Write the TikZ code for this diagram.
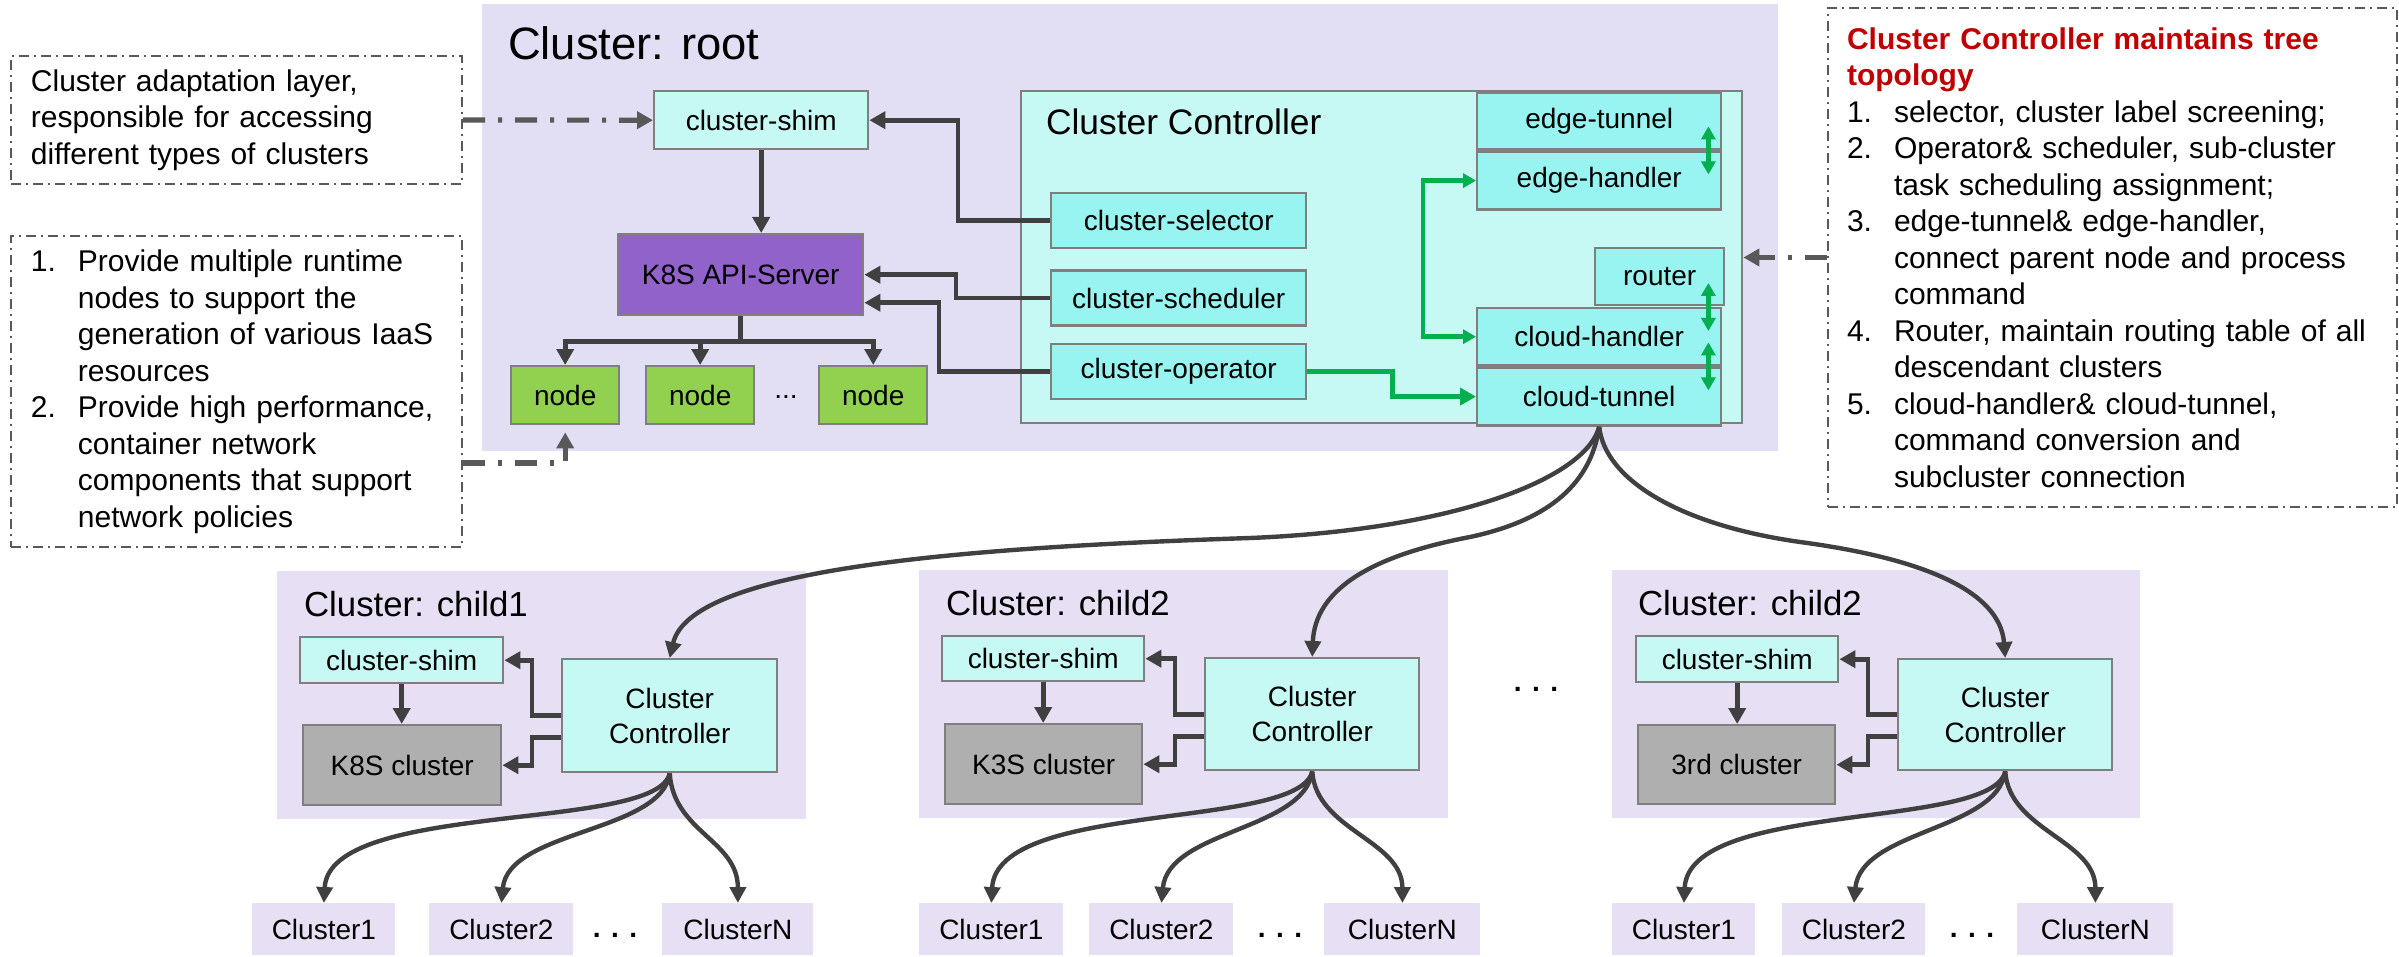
\documentclass[tikz,border=0pt]{standalone}
\usepackage{fontspec}
\setmainfont{Liberation Sans}
\usepackage{tikz}
\usetikzlibrary{arrows.meta, positioning, calc}
\definecolor{rootbg}{HTML}{E2DFF5}
\definecolor{childbg}{HTML}{E7DFF3}
\definecolor{lightcyan}{HTML}{C6F8F4}
\definecolor{midcyan}{HTML}{97F4F0}
\definecolor{apipurple}{HTML}{9162C9}
\definecolor{nodegreen}{HTML}{92D050}
\definecolor{clgray}{HTML}{AFAFAF}
\definecolor{edgegray}{HTML}{7F7F7F}
\definecolor{arrowgray}{HTML}{404040}
\definecolor{linkgreen}{HTML}{00B050}
\definecolor{notered}{HTML}{C00000}
\definecolor{notegray}{HTML}{595959}
\newcommand{\Num}[1]{\makebox[23.5pt][l]{#1}}
\newcommand{\Ind}{\hspace*{23.5pt}}
\newcommand{\Head}[1]{\textcolor{notered}{\textbf{#1}}}
\tikzset{
    sz/.style 2 args={minimum width=#1, minimum height=#2},
    box/.style={draw=edgegray, line width=1.2pt, inner sep=0pt, anchor=north west,
      font=\fontsize{14}{17.5}\selectfont},
    shim/.style={box, fill=lightcyan},
    part/.style={box, fill=midcyan},
    area/.style={fill=#1, inner sep=0pt, anchor=north west},
    leaf/.style={area=childbg, font=\fontsize{14}{17.5}\selectfont},
    clabel/.style={anchor=base west, font=\fontsize{17.4}{21}\selectfont},
    more/.style={anchor=base, font=\fontsize{14}{17}\selectfont\bfseries},
    note/.style={draw=notegray, line width=1pt, dash pattern=on 5pt off 2.5pt on 1pt off 2.5pt,
      anchor=north west, inner ysep=0pt, align=left, font=\fontsize{15}{18.25}\selectfont},
    darr/.style={draw=arrowgray, line width=2.4pt, -{Triangle[length=8pt, width=8.5pt]}},
    carr/.style={draw=arrowgray, line width=2.2pt, -{Triangle[length=8pt, width=8pt]}},
    garr/.style={draw=linkgreen, line width=2.2pt, -{Triangle[length=8pt, width=8.5pt]}},
    garr2/.style={draw=linkgreen, line width=2.2pt, {Triangle[length=6.5pt, width=7pt]}-{Triangle[length=6.5pt, width=7pt]}},
    pointer/.style={draw=notegray, line width=2.6pt, dash pattern=on 11pt off 6.5pt on 2pt off 6.5pt,
      -{Triangle[length=8pt, width=8.5pt]}},
}

\begin{document}
\begin{tikzpicture}[x=0.5pt, y=-0.5pt]
    \tikzset{node distance=10pt}
    \useasboundingbox (0,0) rectangle (2399,957);

    % root cluster
    \node[area=rootbg, sz={648pt}{223.5pt}] (root) at (482,4) {};
    \node[clabel, font=\fontsize{22.7}{27}\selectfont] (roottitle) at (501,60) {Cluster: root};
    \node[shim, sz={107pt}{29pt}] (shim) at (653,90) {cluster-shim};
    \node[box, fill=apipurple, sz={122.5pt}{40.5pt}] (api) at (617,233) {K8S API-Server};
    \node[box, fill=nodegreen, sz={54pt}{29pt}] (n1) at (510,365) {node};
    \node[box, fill=nodegreen, sz={54pt}{29pt}] (n2) at (645,365) {node};
    \node[box, fill=nodegreen, sz={54pt}{29pt}] (n3) at (818,365) {node};
    \node[more, font=\fontsize{14}{17}\selectfont] (ndots) at (786,398) {...};

    \node[shim, sz={360.5pt}{166pt}] (ctrl) at (1020,90) {};
    \node[clabel, font=\fontsize{17.7}{21}\selectfont] (ctrltitle) at (1039,135) {Cluster Controller};
    \node[part, sz={122pt}{28pt}] (etun) at (1476,92) {edge-tunnel};
    \node[part, sz={122pt}{29pt}, below=0pt of etun] (ehand) {edge-handler};
    \node[part, sz={127.5pt}{27.5pt}] (sel) at (1050,192) {cluster-selector};
    \node[part, sz={127.5pt}{27.5pt}, below=10pt of sel] (sch) {cluster-scheduler};
    \node[part, sz={127.5pt}{27.5pt}, below=8pt of sch] (opr) {cluster-operator};
    \node[part, sz={64.5pt}{28.5pt}] (router) at (1594,247) {router};
    \node[part, sz={122pt}{28.5pt}] (chand) at (1476,307) {cloud-handler};
    \node[part, sz={122pt}{29pt}, below=0pt of chand] (ctun) {cloud-tunnel};

    \draw[darr] (shim.south) -- (shim.south |- api.north);
    \draw[darr] (api.south) -- ++(0,25) -| (n1.north);
    \draw[darr] (api.south) -- ++(0,25) -| (n2.north);
    \draw[darr] (api.south) -- ++(0,25) -| (n3.north);
    \draw[darr] (sel.west) -- ++(-92,0) |- (shim.east);
    \draw[darr] (sch.west) -- ++(-94,0) |- (api.east);
    \draw[darr] (opr.west) -- ++(-111,0) |- ([yshift=-14pt]api.east);
    \draw[garr] (opr.east) -- ++(85,0) |- (ctun.west);
    \draw[garr2] (ehand.west) -- ++(-53,0) |- (chand.west);
    \draw[garr2] ([xshift=-7pt,yshift=12pt]etun.south east) -- ([xshift=-7pt,yshift=-12pt]etun.south east);
    \draw[garr2] ([xshift=-7pt,yshift=12pt]chand.north east) -- ([xshift=-7pt,yshift=-12pt]chand.north east);
    \draw[garr2] ([xshift=-7pt,yshift=12pt]ctun.north east) -- ([xshift=-7pt,yshift=-12pt]ctun.north east);

    % notes
    \node[note, text width=205.5pt, inner xsep=10pt, minimum height=64pt] (note1) at (10,55)
      {Cluster adaptation layer,\\responsible for accessing\\different types of clusters};
    \node[note, text width=205.5pt, inner xsep=10pt, minimum height=155.5pt] (note2) at (10,235)
      {\Num{1.}Provide multiple runtime\\\Ind nodes to support the\\\Ind generation of various IaaS\\
       \Ind resources\\\Num{2.}Provide high performance,\\\Ind container network\\
       \Ind components that support\\\Ind network policies};
    \node[note, text width=265.5pt, inner xsep=9.5pt, minimum height=249.5pt] (note3) at (1827,7)
      {\Head{Cluster Controller maintains tree}\\\Head{topology}\\
       \Num{1.}selector, cluster label screening;\\
       \Num{2.}Operator\& scheduler, sub-cluster\\\Ind task scheduling assignment;\\
       \Num{3.}edge-tunnel\& edge-handler,\\\Ind connect parent node and process\\\Ind command\\
       \Num{4.}Router, maintain routing table of all\\\Ind descendant clusters\\
       \Num{5.}cloud-handler\& cloud-tunnel,\\\Ind command conversion and\\\Ind subcluster connection};

    \draw[pointer] (note1.east) -- (shim.west);
    \draw[pointer] ([yshift=-35.75pt]note2.east) -| ([yshift=-3.5pt]n1.south);
    \draw[pointer] (note3.west) -- (note3.west -| ctrl.east);

    % child clusters
    \node[area=childbg, sz={264.5pt}{124pt}] (child1) at (277,571) {};
    \node[clabel] (title1) at (297,616) {Cluster: child1};
    \node[shim, sz={101.5pt}{23pt}] (shim1) at (299,636) {cluster-shim};
    \node[box, fill=clgray, sz={99pt}{40pt}] (k8s1) at (302,724) {K8S cluster};
    \node[shim, sz={107.5pt}{56.5pt}, align=center] (ctrl1) at (561,658) {Cluster\\Controller};
    \node[leaf, sz={71.5pt}{26pt}] (a1) at (252,903) {Cluster1};
    \node[leaf, sz={72pt}{26pt}] (b1) at (429,903) {Cluster2};
    \node[leaf, sz={75.5pt}{26pt}] (z1) at (662,903) {ClusterN};
    \node[more] (d1) at (615,937) {. . .};

    \node[area=childbg, sz={264.5pt}{124pt}] (child2) at (919,570) {};
    \node[clabel] (title2) at (939,615) {Cluster: child2};
    \node[shim, sz={101pt}{22.5pt}] (shim2) at (941,635) {cluster-shim};
    \node[box, fill=clgray, sz={98.5pt}{40pt}] (k3s2) at (944,723) {K3S cluster};
    \node[shim, sz={107pt}{56pt}, align=center] (ctrl2) at (1204,657) {Cluster\\Controller};
    \node[leaf, sz={72pt}{26pt}] (a2) at (919,903) {Cluster1};
    \node[leaf, sz={72pt}{26pt}] (b2) at (1089,903) {Cluster2};
    \node[leaf, sz={78pt}{26pt}] (z2) at (1324,903) {ClusterN};
    \node[more] (d2) at (1280,937) {. . .};
    \node[more] (dmid) at (1536,691) {. . .};

    \node[area=childbg, sz={264pt}{124pt}] (child3) at (1612,570) {};
    \node[clabel] (title3) at (1631,615) {Cluster: child2};
    \node[shim, sz={101pt}{23pt}] (shim3) at (1635,635) {cluster-shim};
    \node[box, fill=clgray, sz={98.5pt}{39.5pt}] (k3) at (1637,724) {3rd cluster};
    \node[shim, sz={107pt}{55.5pt}, align=center] (ctrl3) at (1897,658) {Cluster\\Controller};
    \node[leaf, sz={71.5pt}{26pt}] (a3) at (1612,903) {Cluster1};
    \node[leaf, sz={71.5pt}{26pt}] (b3) at (1782,903) {Cluster2};
    \node[leaf, sz={78pt}{26pt}] (z3) at (2017,903) {ClusterN};
    \node[more] (d3) at (1972,937) {. . .};

    \draw[darr] (shim1.south) -- (shim1.south |- k8s1.north);
    \draw[darr] (ctrl1.west) -- ++(-29,0) |- (shim1.east);
    \draw[darr] ([yshift=-11pt]ctrl1.west) -- ++(-29,0) |- (k8s1.east);
    \draw[darr] (shim2.south) -- (shim2.south |- k3s2.north);
    \draw[darr] (ctrl2.west) -- ++(-29,0) |- (shim2.east);
    \draw[darr] ([yshift=-11pt]ctrl2.west) -- ++(-29,0) |- (k3s2.east);
    \draw[darr] (shim3.south) -- (shim3.south |- k3.north);
    \draw[darr] (ctrl3.west) -- ++(-29,0) |- (shim3.east);
    \draw[darr] ([yshift=-11pt]ctrl3.west) -- ++(-29,0) |- (k3.east);

    % tree links
    \draw[carr] (ctun.south) .. controls (1585,480) and (1450,530) .. (1250,538)
      .. controls (950,548) and (690,570) .. (ctrl1.north);
    \draw[carr] (ctun.south) .. controls (1590,490) and (1540,522) .. (1470,537)
      .. controls (1370,556) and (1315,590) .. (ctrl2.north);
    \draw[carr] (ctun.south) .. controls (1605,480) and (1680,525) .. (1800,542)
      .. controls (1920,558) and (2000,590) .. (ctrl3.north);

    \draw[carr] (ctrl1.south) .. controls +(-13,59) and +(5,-103) .. (a1.north);
    \draw[carr] (ctrl1.south) .. controls +(-8,59) and +(7,-73) .. (b1.north);
    \draw[carr] (ctrl1.south) .. controls +(4,59) and +(0,-63) .. (z1.north);
    \draw[carr] (ctrl2.south) .. controls +(-13,59) and +(5,-103) .. (a2.north);
    \draw[carr] (ctrl2.south) .. controls +(-8,59) and +(7,-73) .. (b2.north);
    \draw[carr] (ctrl2.south) .. controls +(4,59) and +(0,-63) .. (z2.north);
    \draw[carr] (ctrl3.south) .. controls +(-13,59) and +(5,-103) .. (a3.north);
    \draw[carr] (ctrl3.south) .. controls +(-8,59) and +(7,-73) .. (b3.north);
    \draw[carr] (ctrl3.south) .. controls +(4,59) and +(0,-63) .. (z3.north);

\end{tikzpicture}
\end{document}
